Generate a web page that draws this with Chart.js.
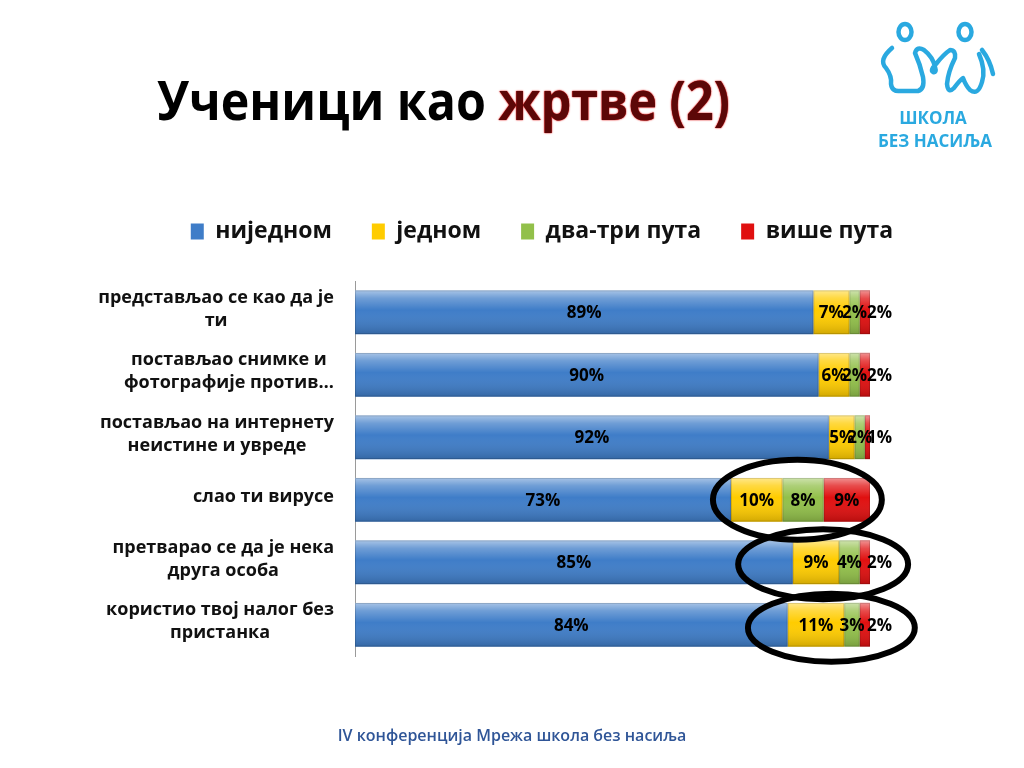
<!DOCTYPE HTML>
<html>
<head>
<meta charset="utf-8">
<script src="https://cdn.jsdelivr.net/npm/chart.js@4.4.1/dist/chart.umd.min.js"></script>
<style>
  body { margin:0; width:1024px; height:768px; background:#fff; position:relative; overflow:hidden; font-family:"Open Sans", sans-serif; }
  #box { position:absolute; left:0; top:0; width:1024px; height:768px; }
  #title { position:absolute; left:157px; top:72px; margin:0; font-size:54px; line-height:54px; font-weight:700; color:#000; white-space:nowrap; transform-origin:0 0; }
  #title .red { color:#5c0707; text-shadow:0 0 1px #e02020, 0 0 2px #e02020; }
  #footer { position:absolute; left:0; width:1024px; top:724px; text-align:center; font-size:16px; font-weight:600; color:#2f5597; }
  #logo { position:absolute; left:860px; top:10px; }
</style>
</head>
<body>
  <div id="box"><canvas id="myChart" width="1024" height="768"></canvas></div>
  <h1 id="title">Ученици као <span class="red">жртве (2)</span></h1>
  <svg id="logo" width="160" height="150" viewBox="860 10 160 150">
    <g fill="none" stroke="#2aa9e0" stroke-width="4.5" stroke-linecap="round" stroke-linejoin="round">
      <ellipse cx="905" cy="32" rx="6.5" ry="8"/>
      <ellipse cx="965" cy="32" rx="6.5" ry="8"/>
      <path d="M892 48 Q878 60 886 68 Q892 76 891 84 Q892 92 900 91 L918 91 Q925 89 923 77 Q920 64 915 53 Q917 46 924 50 Q933 57 935 67 Q937 73 933 72 Q930 70 936 64 Q944 54 950 50 Q956 50 955 58 Q948 72 947 84 Q948 94 954 88 Q960 80 963 78 Q966 86 970 90 Q978 96 982 82 Q986 70 979 54"/>
      <path d="M982 50 Q990 60 993 74"/>
    </g>
    <text x="933" y="124" text-anchor="middle" font-family="Open Sans" font-weight="700" font-size="17" fill="#2aa9e0">ШКОЛА</text>
    <text x="935" y="147" text-anchor="middle" font-family="Open Sans" font-weight="700" font-size="17" fill="#2aa9e0">БЕЗ НАСИЉА</text>
  </svg>
  <div id="footer">IV конференција Мрежа школа без насиља</div>

<script>
// категорије (редови), по линијама
const categories = [
  ['представљао се као да је', 'ти'],
  ['постављао снимке и', 'фотографије против…'],
  ['постављао на интернету', 'неистине и увреде'],
  ['слао ти вирусе'],
  ['претварао се да је нека', 'друга особа'],
  ['користио твој налог без', 'пристанка']
];
const seriesNames = ['ниједном', 'једном', 'два-три пута', 'више пута'];
const never    = [89, 90, 92, 73, 85, 84];
const once     = [7, 6, 5, 10, 9, 11];
const twoThree = [2, 2, 2, 8, 4, 3];
const many     = [2, 2, 1, 9, 2, 2];
const colors = ['#3f7dc8', '#ffcc00', '#92c04a', '#e01010'];

// заокружени редови (row, from/to in % of x axis, ry in px)
const rings = [
  {row: 3, from: 69.5, to: 102.3, ry: 40, dy: 0},
  {row: 4, from: 74.4, to: 107.4, ry: 35, dy: 2},
  {row: 5, from: 76.3, to: 108.7, ry: 34, dy: 3}
];

// fit title width
(function(){
  var t = document.getElementById('title');
  var w = t.getBoundingClientRect().width;
  t.style.transform = 'scaleX(' + (573 / w) + ')';
})();

const legendGap = {
  id: 'legendGap',
  beforeInit(chart) {
    const fit = chart.legend.fit;
    chart.legend.fit = function() { fit.call(this); this.height += 28; };
  }
};

const gloss = {
  id: 'gloss',
  afterDatasetsDraw(chart) {
    const ctx = chart.ctx;
    ctx.save();
    chart.data.datasets.forEach((ds, di) => {
      chart.getDatasetMeta(di).data.forEach(bar => {
        const top = bar.y - bar.height / 2;
        const left = Math.min(bar.x, bar.base);
        const w = Math.abs(bar.x - bar.base);
        const g = ctx.createLinearGradient(0, top, 0, top + bar.height);
        g.addColorStop(0, 'rgba(255,255,255,0.55)');
        g.addColorStop(0.18, 'rgba(255,255,255,0.25)');
        g.addColorStop(0.45, 'rgba(255,255,255,0)');
        g.addColorStop(1, 'rgba(0,0,0,0.18)');
        ctx.fillStyle = g;
        ctx.fillRect(left, top, w, bar.height);
        ctx.strokeStyle = 'rgba(0,0,0,0.15)';
        ctx.lineWidth = 1;
        ctx.strokeRect(left + 0.5, top + 0.5, w - 1, bar.height - 1);
      });
    });
    ctx.restore();
  }
};

const valueLabels = {
  id: 'valueLabels',
  afterDatasetsDraw(chart) {
    const ctx = chart.ctx;
    const last = chart.data.datasets.length - 1;
    ctx.save();
    ctx.font = 'bold 17px "Open Sans"';
    ctx.fillStyle = '#000';
    ctx.textBaseline = 'middle';
    chart.data.datasets.forEach((ds, di) => {
      chart.getDatasetMeta(di).data.forEach((bar, i) => {
        const txt = ds.data[i] + '%';
        const tw = ctx.measureText(txt).width;
        const seg = Math.abs(bar.x - bar.base);
        if (di === last && tw > seg) {
          // too narrow: put it just past the end of the bar
          ctx.textAlign = 'left';
          ctx.fillText(txt, bar.x - 3, bar.y + 1);
        } else {
          ctx.textAlign = 'center';
          ctx.fillText(txt, (bar.x + bar.base) / 2, bar.y + 1);
        }
      });
    });
    ctx.restore();
  }
};

const rowLabels = {
  id: 'rowLabels',
  afterDraw(chart) {
    const ctx = chart.ctx, y = chart.scales.y;
    ctx.save();
    ctx.font = 'bold 18px "Open Sans"';
    ctx.fillStyle = '#111';
    ctx.textAlign = 'center';
    ctx.textBaseline = 'middle';
    categories.forEach((lines, i) => {
      const yc = y.getPixelForValue(i) - 3;
      const w = Math.max.apply(null, lines.map(l => ctx.measureText(l).width));
      const cx = 334 - w / 2;
      lines.forEach((l, k) => ctx.fillText(l, cx, yc + (k - (lines.length - 1) / 2) * 23));
    });
    ctx.restore();
  }
};

const ringPlugin = {
  id: 'rings',
  afterDraw(chart) {
    const ctx = chart.ctx, x = chart.scales.x, y = chart.scales.y;
    ctx.save();
    ctx.strokeStyle = '#000';
    ctx.lineWidth = 6;
    rings.forEach(r => {
      const x1 = x.getPixelForValue(r.from), x2 = x.getPixelForValue(r.to);
      ctx.beginPath();
      ctx.ellipse((x1 + x2) / 2, y.getPixelForValue(r.row) + r.dy, (x2 - x1) / 2, r.ry, 0, 0, Math.PI * 2);
      ctx.stroke();
    });
    ctx.restore();
  }
};

const series = [never, once, twoThree, many];
const data = {
  labels: categories,
  datasets: series.map((s, i) => ({
    label: seriesNames[i],
    data: s,
    backgroundColor: colors[i],
    borderWidth: 0,
    categoryPercentage: 1,
    barPercentage: 0.7
  }))
};

new Chart(document.getElementById('myChart'), {
  type: 'bar',
  data: data,
  options: {
    indexAxis: 'y',
    responsive: false,
    animation: false,
    events: [],
    layout: { padding: { left: 60, right: 0, top: 180, bottom: 112 } },
    scales: {
      x: { stacked: true, min: 0, max: 100, display: false },
      y: {
        stacked: true,
        grid: { display: false },
        ticks: { display: false },
        border: { display: true, color: '#9a9a9a', width: 1 },
        afterFit: s => { s.width = 295; }
      },
      yRight: {
        type: 'category',
        position: 'right',
        grid: { display: false },
        ticks: { display: false },
        border: { display: false },
        afterFit: s => { s.width = 154; }
      }
    },
    plugins: {
      tooltip: { enabled: false },
      legend: {
        position: 'top',
        labels: {
          boxWidth: 13,
          boxHeight: 16,
          padding: 40,
          color: '#111',
          font: { family: 'Open Sans', size: 23, weight: 'bold' }
        }
      }
    }
  },
  plugins: [legendGap, gloss, valueLabels, rowLabels, ringPlugin]
});
</script>
</body>
</html>
